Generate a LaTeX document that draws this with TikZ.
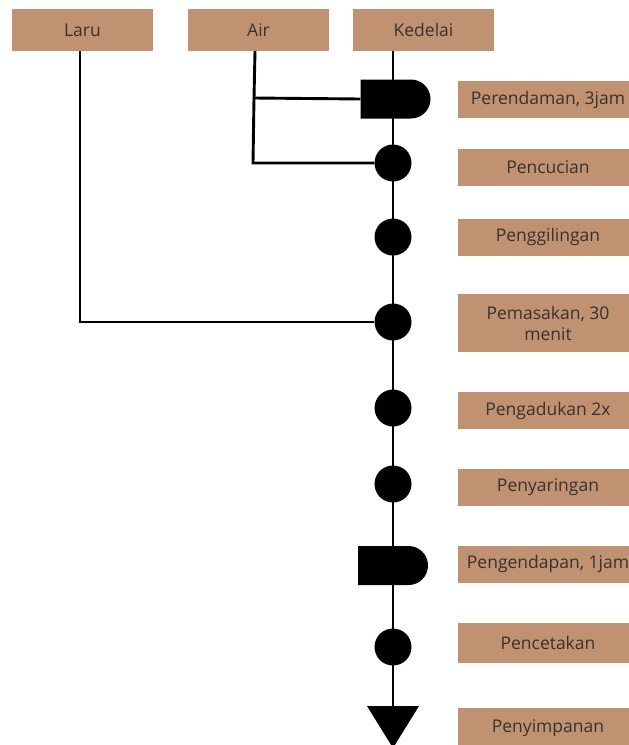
\documentclass[tikz,border=0pt]{standalone}
\usepackage{fontspec}
\setmainfont{Open Sans}
\usetikzlibrary{shapes.misc,shapes.geometric}
\definecolor{boxbrown}{RGB}{193,146,113}
\definecolor{txt}{RGB}{55,50,48}
\tikzset{
  lbl/.style={fill=boxbrown, draw=none, text=txt, inner sep=0pt, font=\fontsize{17.5}{21}\selectfont, align=center},
  topbox/.style={lbl, minimum width=141pt, minimum height=42pt},
  sidebox/.style={lbl, minimum width=180pt, minimum height=37pt},
  opcircle/.style={circle, fill=black, draw=none, minimum size=37pt, inner sep=0pt},
  delay/.style={rounded rectangle, rounded rectangle west arc=none, fill=black, draw=none, minimum width=70pt, minimum height=39pt, inner sep=0pt},
  flow/.style={line width=2.9pt, black}
}
\begin{document}
\begin{tikzpicture}[x=1pt,y=-1pt]
\clip (0,0) rectangle (629,745);
\fill[white] (0,0) rectangle (629,745);
% top inputs
\node[topbox] (laru) at (82.5,30) {Laru};
\node[topbox] (air) at (258.5,30) {Air};
\node[topbox] (kedelai) at (423.5,30) {Kedelai};
% side labels
\node[sidebox] (l1) at (548,99.5) {Perendaman, 3jam};
\node[sidebox] (l2) at (548,167.5) {Pencucian};
\node[sidebox] (l3) at (548,237) {Penggilingan};
\node[sidebox, minimum height=58pt] (l4) at (548,323) {Pemasakan, 30\\menit};
\node[sidebox] (l5) at (548,410.5) {Pengadukan 2x};
\node[sidebox] (l6) at (548,487) {Penyaringan};
\node[sidebox] (l7) at (548,564) {Pengendapan, 1jam};
\node[sidebox, minimum height=40pt] (l8) at (548,643) {Pencetakan};
\node[sidebox, minimum height=40pt] (l9) at (548,728) {Penyimpanan};
% main line coordinates
\coordinate (ktop) at (393,51);
\coordinate (tritop) at (393,706);
\draw[flow] (ktop) -- (tritop);
% Air branch
\coordinate (airtop) at (255,51);
\coordinate (airmid) at (254,98);
\coordinate (airbot) at (253,163);
% process symbols
\node[delay] (p1) at (395.5,99) {};
\node[opcircle] (p2) at (393,163) {};
\node[opcircle] (p3) at (393,237) {};
\node[opcircle] (p4) at (393,322) {};
\node[opcircle] (p5) at (393,408) {};
\node[opcircle] (p6) at (393,484) {};
\node[delay] (p7) at (393,565.5) {};
\node[opcircle] (p8) at (393,647) {};
\fill (367,706) -- (419,706) -- (393,748) -- cycle;
% connectors
\draw[flow] (airtop) -- (airmid) -- (airbot) -- (p2.west);
\draw[flow] (airmid) -- (p1.west);
\draw[flow] (laru.south -| 80,0) |- (p4.west);
\end{tikzpicture}
\end{document}
